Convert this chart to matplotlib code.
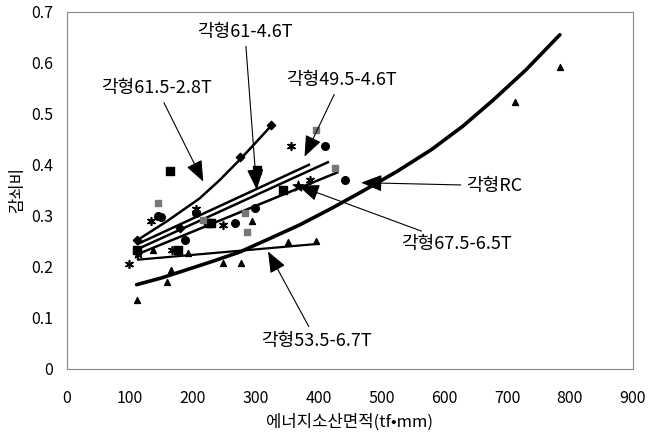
import numpy as np
import matplotlib
matplotlib.use("Agg")
import matplotlib.pyplot as plt

plt.rcParams["font.family"] = ["Noto Sans CJK KR", "DejaVu Sans"]

# trend curves
rc_x = [111, 150, 190, 230, 275, 320, 370, 420, 470, 525, 580, 630, 678, 730, 784]
rc_y = [0.165, 0.178, 0.194, 0.210, 0.229, 0.254, 0.282, 0.314, 0.348, 0.387,
        0.430, 0.476, 0.527, 0.586, 0.655]

t615_x = [113, 160, 211, 243, 275, 300, 323]
t615_y = [0.253, 0.290, 0.334, 0.370, 0.410, 0.443, 0.474]

t495_x = [113, 385]
t495_y = [0.245, 0.400]
t61_x = [113, 415]
t61_y = [0.235, 0.405]
t675_x = [113, 430]
t675_y = [0.225, 0.385]
t535_x = [113, 113, 400]
t535_y = [0.235, 0.214, 0.245]

# scatter points
tri_x = [111, 159, 165, 248, 277, 351, 397, 712, 784, 294, 137, 193]
tri_y = [0.135, 0.171, 0.193, 0.208, 0.208, 0.248, 0.250, 0.524, 0.591, 0.289, 0.233, 0.227]
sq_x = [164, 302, 344, 230, 177, 111, 225]
sq_y = [0.387, 0.390, 0.351, 0.286, 0.233, 0.233, 0.286]
hsq_x = [145, 283, 286, 397, 217, 426]
hsq_y = [0.326, 0.305, 0.269, 0.469, 0.292, 0.393]
cir_x = [145, 150, 188, 299, 410, 442, 267, 206]
cir_y = [0.299, 0.297, 0.253, 0.315, 0.436, 0.371, 0.286, 0.305]
ast_x = [99, 134, 205, 168, 248, 357, 386]
ast_y = [0.206, 0.289, 0.313, 0.233, 0.282, 0.436, 0.371]
dia_x = [275, 324, 111, 180]
dia_y = [0.416, 0.478, 0.253, 0.276]
star_x = [368, 113]
star_y = [0.359, 0.228]

fig = plt.figure(figsize=(6.49, 4.38), dpi=100)
ax = fig.add_axes([0.103, 0.158, 0.872, 0.815])

ax.plot(rc_x, rc_y, color="black", lw=2.6, solid_capstyle="round", solid_joinstyle="round")
ax.plot(t615_x, t615_y, color="black", lw=1.8)
ax.plot(t495_x, t495_y, color="black", lw=1.8)
ax.plot(t61_x, t61_y, color="black", lw=1.8)
ax.plot(t675_x, t675_y, color="black", lw=1.8)
ax.plot(t535_x, t535_y, color="black", lw=1.6)

ax.scatter(tri_x, tri_y, marker="^", s=18, color="black", zorder=3)
ax.scatter(sq_x, sq_y, marker="s", s=40, color="black", zorder=3)
ax.scatter(hsq_x, hsq_y, marker="s", s=22, color="#777777", zorder=3)
ax.scatter(cir_x, cir_y, marker="o", s=30, color="black", zorder=3)
ax.scatter(ast_x, ast_y, marker=(6, 2, 0), s=30, color="black", lw=1.2, zorder=3)
ax.scatter(dia_x, dia_y, marker="D", s=18, color="black", zorder=3)
ax.scatter(star_x, star_y, marker="*", s=60, color="black", zorder=3)

arrow = dict(arrowstyle="-|>,head_length=1.0,head_width=0.4", color="black",
             lw=0.8, shrinkA=2, shrinkB=0)
fs = 13
ax.annotate("각형61.5-2.8T", xy=(217, 0.367), xytext=(143, 0.55), fontsize=fs,
            ha="center", va="center", arrowprops=arrow)
ax.annotate("각형61-4.6T", xy=(302, 0.351), xytext=(283, 0.661), fontsize=fs,
            ha="center", va="center", arrowprops=arrow)
ax.annotate("각형49.5-4.6T", xy=(378, 0.416), xytext=(436, 0.566), fontsize=fs,
            ha="center", va="center", arrowprops=arrow)
ax.annotate("각형RC", xy=(468, 0.365), xytext=(680, 0.359), fontsize=fs,
            ha="center", va="center", arrowprops=arrow)
ax.annotate("각형67.5-6.5T", xy=(368, 0.359), xytext=(619, 0.245), fontsize=fs,
            ha="center", va="center", arrowprops=arrow)
ax.annotate("각형53.5-6.7T", xy=(320, 0.23), xytext=(397, 0.055), fontsize=fs,
            ha="center", va="center", arrowprops=arrow)

ax.set_xlim(0, 900)
ax.set_ylim(0, 0.7)
ax.set_xticks(np.arange(0, 901, 100))
ax.set_yticks(np.arange(0, 0.71, 0.1))
ax.set_yticklabels(["0", "0.1", "0.2", "0.3", "0.4", "0.5", "0.6", "0.7"])
ax.tick_params(length=0, labelsize=11.5)
ax.tick_params(axis="x", pad=15)
ax.tick_params(axis="y", pad=10)
for s in ax.spines.values():
    s.set_color("#888888")
    s.set_linewidth(0.8)
    s.set_linestyle((0, (2, 1)))

ax.set_xlabel("에너지소산면적(tf•mm)", fontsize=12, labelpad=5)
ax.set_ylabel("감쇠비", fontsize=12)
ax.yaxis.set_label_coords(-0.072, 0.5)

fig.savefig("out.png", dpi=100)
